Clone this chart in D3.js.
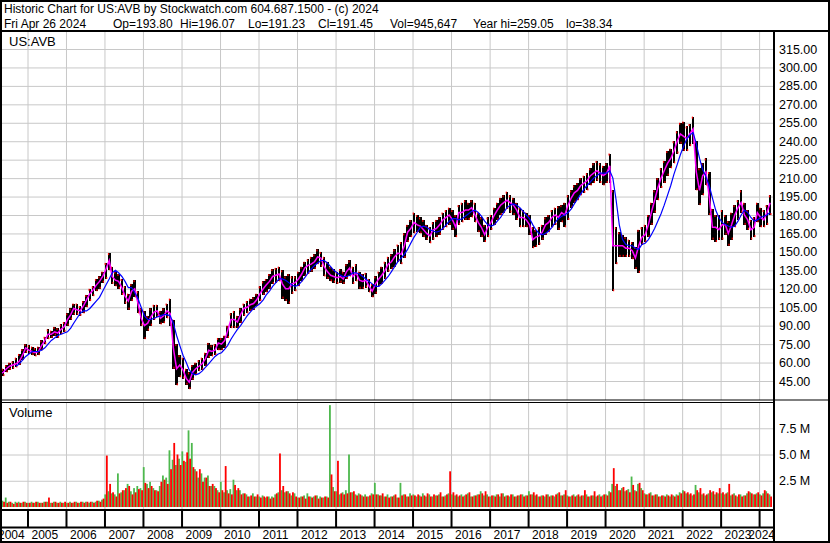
<!DOCTYPE html>
<html>
<head>
<meta charset="utf-8">
<title>Historic Chart for US:AVB</title>
<style>
  body { margin: 0; background: #fff; }
  svg  { display: block; font-family: "Liberation Sans", Arial, sans-serif; }
</style>
</head>
<body>
<script src="https://cdn.jsdelivr.net/npm/d3@7"></script>
<script>

// monthly values, Apr 2004 .. Apr 2024
var firstMonth = new Date(2004, 3, 15);

var hi = [
  55,55,58,60,61,64,67,71,75,
  74,73,72,73,78,81,87,86,89,88,91,93,
  100,104,108,108,106,110,115,120,122,128,130,134,
  141,149,138,134,132,128,122,116,124,127,118,104,
  102,98,104,107,107,102,104,108,112,95,75,66,
  64,55,52,58,60,62,64,68,76,74,75,80,
  80,82,90,100,102,98,104,108,110,112,113,116,
  122,126,128,132,136,137,138,135,130,132,130,130,
  134,138,142,144,146,148,152,150,146,142,138,136,
  134,136,134,140,143,138,140,134,132,133,128,124,
  130,134,138,142,146,148,152,156,158,165,172,176,
  182,180,178,176,172,170,174,176,178,182,184,186,
  184,180,188,190,192,190,192,190,182,178,172,178,
  180,186,190,194,196,199,196,194,190,186,184,182,
  180,170,168,170,172,178,180,184,186,187,188,190,
  196,200,204,206,210,212,214,218,222,224,222,220,
  222,230,200,170,166,164,162,160,158,154,168,170,
  172,180,190,200,210,218,224,232,234,240,248,255,
  256,252,254,260,240,218,222,226,215,185,180,180,
  184,180,175,182,188,192,200,190,184,176,178,190,
  186,184,188,196
];

var lo = [
  48,49,52,54,55,56,58,62,68,
  67,66,65,66,70,75,79,80,82,80,83,85,
  90,95,99,99,98,100,105,110,114,118,120,125,
  128,135,124,122,120,115,108,103,110,113,100,90,
  79,86,90,95,97,91,92,96,90,55,41.5,48,
  47,42,38.3,46,50,53,54,57,64,65,66,70,
  70,72,80,88,88,88,92,98,100,102,103,106,
  110,115,117,120,124,125,126,112,110,108,116,118,
  122,126,130,132,134,136,140,138,130,128,126,125,
  124,125,124,128,130,124,126,120,120,121,117,113,
  116,122,124,128,134,136,138,142,140,145,158,162,
  165,166,165,162,160,157,160,162,164,168,170,172,
  168,162,172,174,176,176,178,174,166,162,158,162,
  168,172,176,180,182,185,182,180,176,170,170,170,
  164,153,154,156,160,164,166,170,172,168,174,170,
  176,186,190,192,196,198,200,204,206,208,206,204,
  206,206,118,140,146,146,146,146,144,136,133,156,
  158,162,172,182,192,202,206,212,218,222,230,238,
  232,232,236,238,200,188,196,204,180,160,158,160,
  160,164,155,160,170,176,182,172,168,160,162,174,
  170,170,172,180
];

// short moving average (magenta)
var maShort = [
  51,52,55,57,58,59,61,66,72,
  70,69,68,69,74,78,83,83,85,84,87,89,
  95,99,104,103,102,106,111,116,119,123,126,130,
  136,143,130,127,126,121,114,110,118,120,108,96,
  90,92,97,101,102,96,98,102,100,72,55,58,
  54,47,44,52,55,57,59,63,70,69,70,76,
  75,78,86,95,95,93,99,104,105,107,108,111,
  116,120,123,126,130,131,132,124,120,120,124,125,
  128,132,137,139,140,142,146,145,138,134,131,130,
  129,130,128,134,137,130,133,127,126,127,122,118,
  124,128,131,135,140,142,146,149,148,155,166,169,
  174,172,171,168,165,163,168,169,172,176,178,180,
  176,170,182,182,184,184,186,180,174,170,164,170,
  174,180,184,188,190,192,190,188,184,178,178,176,
  172,160,162,163,166,172,174,178,180,178,182,180,
  188,194,198,200,204,206,208,212,214,216,214,212,
  214,220,155,155,155,155,153,153,151,145,155,162,
  164,172,182,192,202,210,216,222,226,232,240,246,
  244,242,246,250,215,200,212,215,195,170,170,168,
  172,172,165,172,180,186,190,180,176,168,170,182,
  178,176,182,190
];

// long moving average (blue)
var maLong = [
  null,null,null,null,null,57,59,62,65,
  67,69,69,69,70,72,75,78,80,82,83,84,
  85,88,92,96,100,102,102,104,107,110,113,118,
  123,128,133,135,133,130,126,121,121,117,112,105,
  98,95,95,96,97,98,99,99,98,92,82,74,
  66,60,54,51,50,51,53,56,59,62,65,67,
  68,71,74,79,83,87,90,94,98,101,104,106,
  108,111,115,118,122,125,128,128,127,125,123,122,
  123,126,129,133,136,139,141,143,143,141,138,135,
  133,131,130,130,131,133,133,132,130,128,126,124,
  122,122,124,127,130,134,138,142,145,148,152,157,
  162,166,170,171,170,168,167,166,167,169,172,175,
  177,177,176,177,179,181,183,184,182,179,175,172,
  171,172,175,178,182,186,188,189,188,186,183,180,
  177,172,168,165,164,165,167,170,174,177,179,180,
  182,185,189,193,197,201,204,207,210,212,214,214,
  214,216,210,192,172,160,156,155,155,153,152,156,
  157,160,164,169,175,181,188,196,204,213,221,229,
  236,242,245,247,238,226,217,211,204,194,184,178,
  174,172,171,170,171,175,180,184,182,178,175,176,
  178,179,180,182
];

// volume in millions, up days (green) and down days (red)
var volUp = [
  .5,.6,.9,.5,.4,.5,.5,.4,.5,
  .4,.5,.4,.5,.4,.5,.5,.4,.5,.4,.5,.4,
  .4,.5,.4,.5,.4,.5,.5,.4,.5,.5,.6,.7,
  1.2,1.5,1.3,1.2,3.2,1.4,1.6,2.2,1.5,1.8,2.0,1.8,
  3.8,2.2,2.4,1.8,1.6,2.0,3.0,2.8,5.4,4.5,4.0,4.6,
  5.3,4.3,7.3,6.1,3.6,2.8,3.2,2.8,3.0,2.0,2.0,1.6,
  2.4,1.4,1.6,1.7,2.6,1.6,1.6,1.3,1.2,1.0,1.3,1.0,
  1.0,1.1,.9,1.0,1.0,1.2,1.4,1.6,1.4,1.5,1.1,1.3,
  .9,1.0,1.1,1.3,1.0,1.0,1.1,1.0,.9,1.0,9.7,1.9,
  1.5,1.2,1.4,1.6,5.0,1.4,1.2,1.3,1.1,1.2,1.0,1.3,
  2.3,1.2,1.1,1.0,1.2,1.0,1.1,.9,2.3,1.2,1.0,1.3,
  1.2,1.0,1.1,1.3,1.0,1.2,1.0,1.1,1.2,1.0,1.1,1.3,
  1.2,1.1,1.0,1.2,1.1,1.3,1.0,1.1,1.2,1.5,1.1,1.2,
  1.0,1.1,1.2,1.0,1.3,1.1,1.0,1.2,1.0,1.1,1.2,1.1,
  1.5,1.2,1.1,1.0,1.1,1.0,1.2,1.1,1.0,1.3,1.1,1.2,
  1.1,1.0,1.2,1.1,1.0,1.1,1.2,1.0,1.1,1.0,1.2,1.1,
  1.2,1.5,2.2,2.0,1.6,1.8,1.5,1.7,2.9,1.6,2.2,1.8,
  1.3,1.2,1.4,1.1,1.2,1.0,1.1,1.2,1.0,1.1,1.2,1.4,
  1.6,1.3,1.2,1.1,2.1,1.4,1.2,1.1,1.3,1.4,1.2,1.3,
  1.3,1.2,1.4,1.1,1.3,1.0,1.2,1.1,1.3,1.4,1.2,1.3,
  1.2,1.3,1.5,1.2
];

var volDown = [
  .4,.5,.4,.5,.3,.4,.4,.5,.4,
  .4,.4,.5,.4,.4,.5,.9,.4,.5,.4,.4,.5,
  .4,.4,.5,.4,.5,.4,.5,.5,.4,.6,.5,.8,
  4.9,2.2,1.4,1.0,1.3,1.6,1.8,2.0,1.2,1.4,1.7,1.6,
  2.3,1.8,2.0,1.6,1.5,2.4,2.6,2.2,3.6,6.1,5.0,4.0,
  4.4,5.2,4.6,3.8,3.4,3.6,2.4,2.8,2.0,2.2,1.8,1.4,
  1.6,3.9,1.3,1.2,2.1,1.8,1.2,1.3,1.0,1.1,1.0,1.2,
  .9,1.0,1.0,.8,.9,1.3,5.1,2.0,1.5,1.3,1.4,1.0,
  .9,1.0,.8,1.0,.9,1.1,.8,.9,1.0,.9,3.1,1.5,
  4.4,1.3,1.2,1.3,1.4,1.5,1.1,1.2,1.0,1.0,1.1,1.2,
  1.2,1.1,1.3,1.0,.9,1.0,1.2,.9,1.1,1.2,1.0,1.1,
  1.1,1.2,1.0,1.1,1.3,1.0,1.2,1.1,1.4,1.0,1.2,3.4,
  1.4,1.2,1.1,1.0,1.2,1.4,1.0,1.1,1.2,1.3,1.5,1.0,
  1.1,1.0,1.2,1.3,1.0,1.1,1.2,1.0,1.1,1.2,1.0,1.1,
  1.2,1.4,1.2,1.0,1.1,1.2,1.0,1.1,1.2,1.4,1.1,1.6,
  1.0,1.1,1.0,1.2,1.1,1.6,1.0,1.1,1.5,1.1,1.0,1.2,
  1.1,1.4,3.7,2.2,1.6,1.9,1.6,1.4,2.1,1.5,2.3,1.6,
  1.2,1.3,1.1,1.2,1.0,1.1,1.0,1.1,1.2,1.0,1.1,1.3,
  1.5,1.4,1.3,1.2,1.6,1.8,1.3,1.2,1.6,1.5,1.4,1.8,
  1.4,1.3,2.2,1.2,1.1,1.2,1.0,1.1,1.5,1.3,1.2,1.4,
  1.1,1.6,1.3,1.0
];

var priceTicks = [45,60,75,90,105,120,135,150,165,180,195,210,225,240,255,270,285,300,315];
var volTicks = [2.5, 5, 7.5];
var yearTicks = [2004,2005,2006,2007,2008,2009,2010,2011,2012,2013,2014,
                 2015,2016,2017,2018,2019,2020,2021,2022,2023,2024];

var titleText = "Historic Chart for US:AVB by Stockwatch.com 604.687.1500 - (c) 2024";
var quoteFields = ["Fri Apr 26 2024", "Op=193.80", "Hi=196.07", "Lo=191.23",
                   "Cl=191.45", "Vol=945,647", "Year hi=259.05", "lo=38.34"];
var quoteX = [4, 113, 180, 248, 318, 390, 473, 566];

////----- layout

var width = 830, height = 543,
    plotLeft = 2, plotRight = 773,
    priceTop = 32, priceBottom = 400,
    volTop = 402, volBottom = 509,
    grid = "#c8c8c8";

var months = hi.map(function(d, i) { return d3.timeMonth.offset(firstMonth, i); });

var x = d3.scaleTime()
    .domain([new Date(2005, 0, 1), new Date(2024, 0, 1)])
    .range([27.5, 759.1]);

var y = d3.scaleLinear()
    .domain([45, 315])
    .range([381, 49]);

var yv = d3.scaleLinear()
    .domain([0, 10])
    .range([507, 402]);

var svg = d3.select("body").append("svg")
    .attr("width", width)
    .attr("height", height);

svg.append("rect").attr("width", width).attr("height", height).attr("fill", "#fff");

var defs = svg.append("defs");
defs.append("clipPath").attr("id", "clipPrice")
  .append("rect").attr("x", plotLeft).attr("y", priceTop)
  .attr("width", plotRight - plotLeft).attr("height", priceBottom - priceTop);
defs.append("clipPath").attr("id", "clipVol")
  .append("rect").attr("x", plotLeft).attr("y", volTop)
  .attr("width", plotRight - plotLeft).attr("height", volBottom - volTop);

var yearDates = yearTicks.map(function(d) { return new Date(d, 0, 1); });

// grid lines
function gridLines(top, bottom, yScale, ticks, clip) {
  var g = svg.append("g").attr("clip-path", "url(#" + clip + ")");
  g.append("g")
    .attr("transform", "translate(" + plotRight + ",0)")
    .call(d3.axisLeft(yScale).tickValues(ticks).tickSize(plotRight - plotLeft).tickFormat(""))
    .call(function(a) { a.select(".domain").remove(); });
  g.append("g")
    .attr("transform", "translate(0," + bottom + ")")
    .call(d3.axisTop(x).tickValues(yearDates).tickSize(bottom - top).tickFormat(""))
    .call(function(a) { a.select(".domain").remove(); });
  g.selectAll(".tick line").attr("stroke", grid);
}
gridLines(priceTop, priceBottom, y, priceTicks, "clipPrice");
gridLines(volTop, volBottom, yv, volTicks, "clipVol");

// price bars
var price = svg.append("g").attr("clip-path", "url(#clipPrice)");

price.selectAll("rect.bar")
  .data(months)
  .enter().append("rect")
  .attr("class", "bar")
  .attr("x", function(d) { return x(d) - 1.3; })
  .attr("width", 2.6)
  .attr("y", function(d, i) { return y(hi[i]); })
  .attr("height", function(d, i) { return y(lo[i]) - y(hi[i]); })
  .attr("fill", "#000")
  .attr("shape-rendering", "crispEdges");

price.selectAll("rect.tickhi")
  .data(months)
  .enter().append("rect")
  .attr("class", "tickhi")
  .attr("x", function(d) { return x(d) - 1.3; })
  .attr("width", 1.2)
  .attr("y", function(d, i) { return y(hi[i]); })
  .attr("height", 2)
  .attr("fill", "#ff0000");

price.selectAll("rect.ticklo")
  .data(months)
  .enter().append("rect")
  .attr("class", "ticklo")
  .attr("x", function(d) { return x(d) + 0.1; })
  .attr("width", 1.2)
  .attr("y", function(d, i) { return y(lo[i]) - 2; })
  .attr("height", 2)
  .attr("fill", "#ff0000");

var line = function(values) {
  return d3.line()
    .defined(function(d, i) { return values[i] != null; })
    .x(function(d) { return x(d); })
    .y(function(d, i) { return y(values[i]); });
};

price.append("path")
  .attr("d", line(maShort)(months))
  .attr("fill", "none")
  .attr("stroke", "#ff00ff")
  .attr("stroke-width", 1.5);

price.append("path")
  .attr("d", line(maLong)(months))
  .attr("fill", "none")
  .attr("stroke", "#0000ff")
  .attr("stroke-width", 1.2);

// volume bars
var vol = svg.append("g").attr("clip-path", "url(#clipVol)");

vol.selectAll("rect.up")
  .data(months)
  .enter().append("rect")
  .attr("class", "up")
  .attr("x", function(d) { return x(d) - 1.6; })
  .attr("width", 1.8)
  .attr("y", function(d, i) { return yv(volUp[i]); })
  .attr("height", function(d, i) { return yv(0) - yv(volUp[i]); })
  .attr("fill", "#4db84d");

vol.selectAll("rect.down")
  .data(months)
  .enter().append("rect")
  .attr("class", "down")
  .attr("x", function(d) { return x(d); })
  .attr("width", 1.8)
  .attr("y", function(d, i) { return yv(volDown[i]); })
  .attr("height", function(d, i) { return yv(0) - yv(volDown[i]); })
  .attr("fill", "#ff0000");

// frame
function hbar(x0, x1, y0, h) {
  svg.append("rect").attr("x", x0).attr("y", y0).attr("width", x1 - x0).attr("height", h).attr("fill", "#000");
}
function vbar(x0, w, y0, y1) {
  svg.append("rect").attr("x", x0).attr("y", y0).attr("width", w).attr("height", y1 - y0).attr("fill", "#000");
}
hbar(0, width, 0, 2);
hbar(0, width, 30, 2);
hbar(0, width, 399.5, 1);
hbar(0, plotRight, 402, 1);
hbar(0, plotRight, 509, 2);
hbar(0, plotRight, 526.5, 2);
hbar(0, width, 541, 2);
vbar(0, 2, 0, height);
vbar(828, 2, 0, height);

// year axis
var xAxis = svg.append("g")
    .attr("transform", "translate(0,511)")
    .call(d3.axisBottom(x).tickValues(yearDates).tickSize(16).tickFormat(d3.timeFormat("%Y")));
xAxis.select(".domain").remove();
xAxis.selectAll(".tick line").attr("stroke", "#000").attr("stroke-width", 2);
xAxis.selectAll(".tick text")
  .attr("fill", "#000")
  .style("font-size", "12px")
  .attr("text-anchor", "start")
  .attr("dy", null)
  .attr("y", 28)
  .attr("x", function(d) {
    var w = this.getComputedTextLength();
    var pos = x(d) + 4;
    pos = Math.max(-2, Math.min(pos, 775 - w));
    return pos - x(d) - 0.5;
  });

vbar(plotRight, 2, priceTop, height);

// right hand labels
var yAxis = svg.append("g")
    .attr("transform", "translate(" + plotRight + ",0)")
    .call(d3.axisRight(y).tickValues(priceTicks).tickSize(0).tickPadding(6).tickFormat(d3.format(".2f")));
var vAxis = svg.append("g")
    .attr("transform", "translate(" + plotRight + ",0)")
    .call(d3.axisRight(yv).tickValues(volTicks).tickSize(0).tickPadding(6)
      .tickFormat(function(d) { return d3.format(".1f")(d) + " M"; }));
[yAxis, vAxis].forEach(function(a) {
  a.select(".domain").remove();
  a.selectAll(".tick text").attr("fill", "#000").style("font-size", "12.5px");
});

// panel labels
svg.append("text").attr("x", 9).attr("y", 46).style("font-size", "13px").text("US:AVB");
svg.append("text").attr("x", 9).attr("y", 417).style("font-size", "13px").text("Volume");

// header
svg.append("text").attr("x", 4).attr("y", 13).style("font-size", "12px").text(titleText);
svg.append("g").selectAll("text")
  .data(quoteFields)
  .enter().append("text")
  .attr("x", function(d, i) { return quoteX[i]; })
  .attr("y", 28)
  .style("font-size", "12px")
  .text(function(d) { return d; });

</script>
</body>
</html>
